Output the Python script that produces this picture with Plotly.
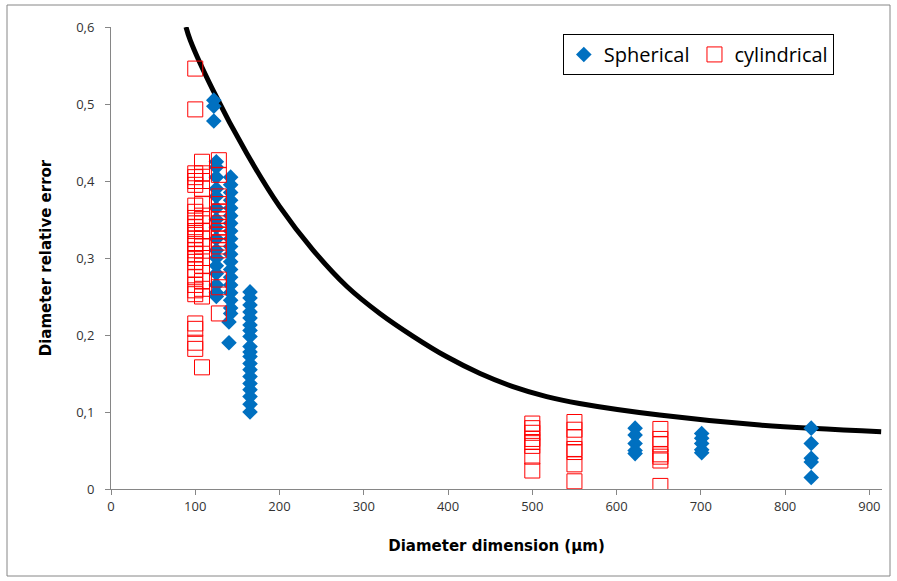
import plotly.graph_objects as go

# ---- data ----
sph_x = ([122]*3 + [125]*16 + [142]*19 + [140]*2 + [165]*19 +
         [622]*5 + [701]*5 + [831]*5)
sph_y = ([0.505, 0.497, 0.478] +
         [0.425, 0.418, 0.405, 0.39, 0.38, 0.365, 0.35, 0.34, 0.325, 0.31, 0.30, 0.29, 0.28, 0.265, 0.255, 0.25] +
         [0.405, 0.395, 0.385, 0.375, 0.365, 0.355, 0.345, 0.335, 0.325, 0.315, 0.305, 0.295, 0.285, 0.275, 0.265, 0.255, 0.245, 0.235, 0.228] +
         [0.217, 0.19] +
         [0.256, 0.248, 0.239, 0.23, 0.222, 0.213, 0.206, 0.198, 0.185, 0.178, 0.172, 0.163, 0.155, 0.146, 0.137, 0.129, 0.12, 0.11, 0.10] +
         [0.079, 0.07, 0.059, 0.05, 0.046] +
         [0.072, 0.066, 0.059, 0.051, 0.047] +
         [0.079, 0.059, 0.04, 0.035, 0.015])

cyl_x = ([100]*28 + [108]*16 + [128]*18 + [500]*8 + [550]*7 + [652]*7)
cyl_y = ([0.546, 0.493, 0.41, 0.405, 0.40, 0.395, 0.368, 0.36, 0.352, 0.345, 0.34, 0.335, 0.33, 0.325,
          0.318, 0.31, 0.305, 0.30, 0.295, 0.285, 0.275, 0.265, 0.258, 0.253, 0.215, 0.208, 0.19, 0.182] +
         [0.425, 0.41, 0.40, 0.39, 0.37, 0.355, 0.345, 0.335, 0.325, 0.315, 0.30, 0.29, 0.27, 0.26, 0.25, 0.158] +
         [0.427, 0.408, 0.38, 0.37, 0.36, 0.355, 0.35, 0.345, 0.34, 0.335, 0.33, 0.325, 0.32, 0.315, 0.31, 0.272, 0.262, 0.228] +
         [0.085, 0.079, 0.073, 0.065, 0.061, 0.056, 0.042, 0.024] +
         [0.087, 0.077, 0.067, 0.052, 0.048, 0.032, 0.01] +
         [0.078, 0.065, 0.058, 0.045, 0.042, 0.037, 0.004])

curve_x = [89, 94, 121, 161, 200, 240, 280, 319, 359, 398, 438, 477, 517, 556, 651, 770, 914]
curve_y = [0.600, 0.583, 0.518, 0.436, 0.367, 0.310, 0.263, 0.228, 0.198, 0.172, 0.150, 0.133, 0.120, 0.111, 0.096, 0.083, 0.0745]

x_ticks = [0, 100, 200, 300, 400, 500, 600, 700, 800, 900]
y_ticks = [0, 0.1, 0.2, 0.3, 0.4, 0.5, 0.6]
y_tick_text = ["0", "0,1", "0,2", "0,3", "0,4", "0,5", "0,6"]

fig = go.Figure()
fig.add_trace(go.Scatter(x=curve_x, y=curve_y, mode="lines", line=dict(color="black", width=5, shape="spline"),
                         showlegend=False, hoverinfo="skip"))
fig.add_trace(go.Scatter(x=sph_x, y=sph_y, mode="markers", name="Spherical",
                         marker=dict(symbol="diamond", size=12, color="#0070C0", line=dict(width=0))))
fig.add_trace(go.Scatter(x=cyl_x, y=cyl_y, mode="markers", name="cylindrical",
                         marker=dict(symbol="square-open", size=15, color="#FF0000", line=dict(width=1))))

axis_font = dict(family="Open Sans, Liberation Sans, sans-serif", size=13, color="#333")
title_font = dict(family="DejaVu Sans, sans-serif", size=15, color="black")

fig.update_layout(
    width=897, height=581,
    margin=dict(l=111, r=15, t=27, b=92),
    paper_bgcolor="white", plot_bgcolor="white",
    xaxis=dict(range=[0, 915], tickvals=x_ticks, ticks="outside", ticklen=5, tickcolor="#868686",
               showline=True, linecolor="#868686", linewidth=1, showgrid=False, zeroline=False,
               tickfont=axis_font,
               title=dict(text="<b>Diameter dimension (µm)</b>", font=title_font, standoff=26)),
    yaxis=dict(range=[0, 0.6], tickvals=y_ticks, ticktext=y_tick_text, ticks="outside", ticklen=5,
               tickcolor="#868686", showline=True, linecolor="#868686", linewidth=1, showgrid=False,
               zeroline=False, tickfont=axis_font, ticklabelstandoff=8,
               title=dict(text="<b>Diameter relative error</b>", font=title_font, standoff=20)),
    legend=dict(x=0.586, y=0.985, xanchor="left", yanchor="top", orientation="h",
                bordercolor="black", borderwidth=1, bgcolor="white",
                font=dict(family="Open Sans, sans-serif", size=20, color="black")),
    shapes=[dict(type="rect", xref="paper", yref="paper",
                 x0=(7-111)/771, x1=(890-111)/771, y0=(489-576)/462, y1=(489-5)/462,
                 line=dict(color="#868686", width=1), fillcolor="rgba(0,0,0,0)", layer="below")],
)

fig.write_html("out.html", config={"displayModeBar": False},
               post_script="document.body.style.margin='0';document.body.style.padding='0';")
